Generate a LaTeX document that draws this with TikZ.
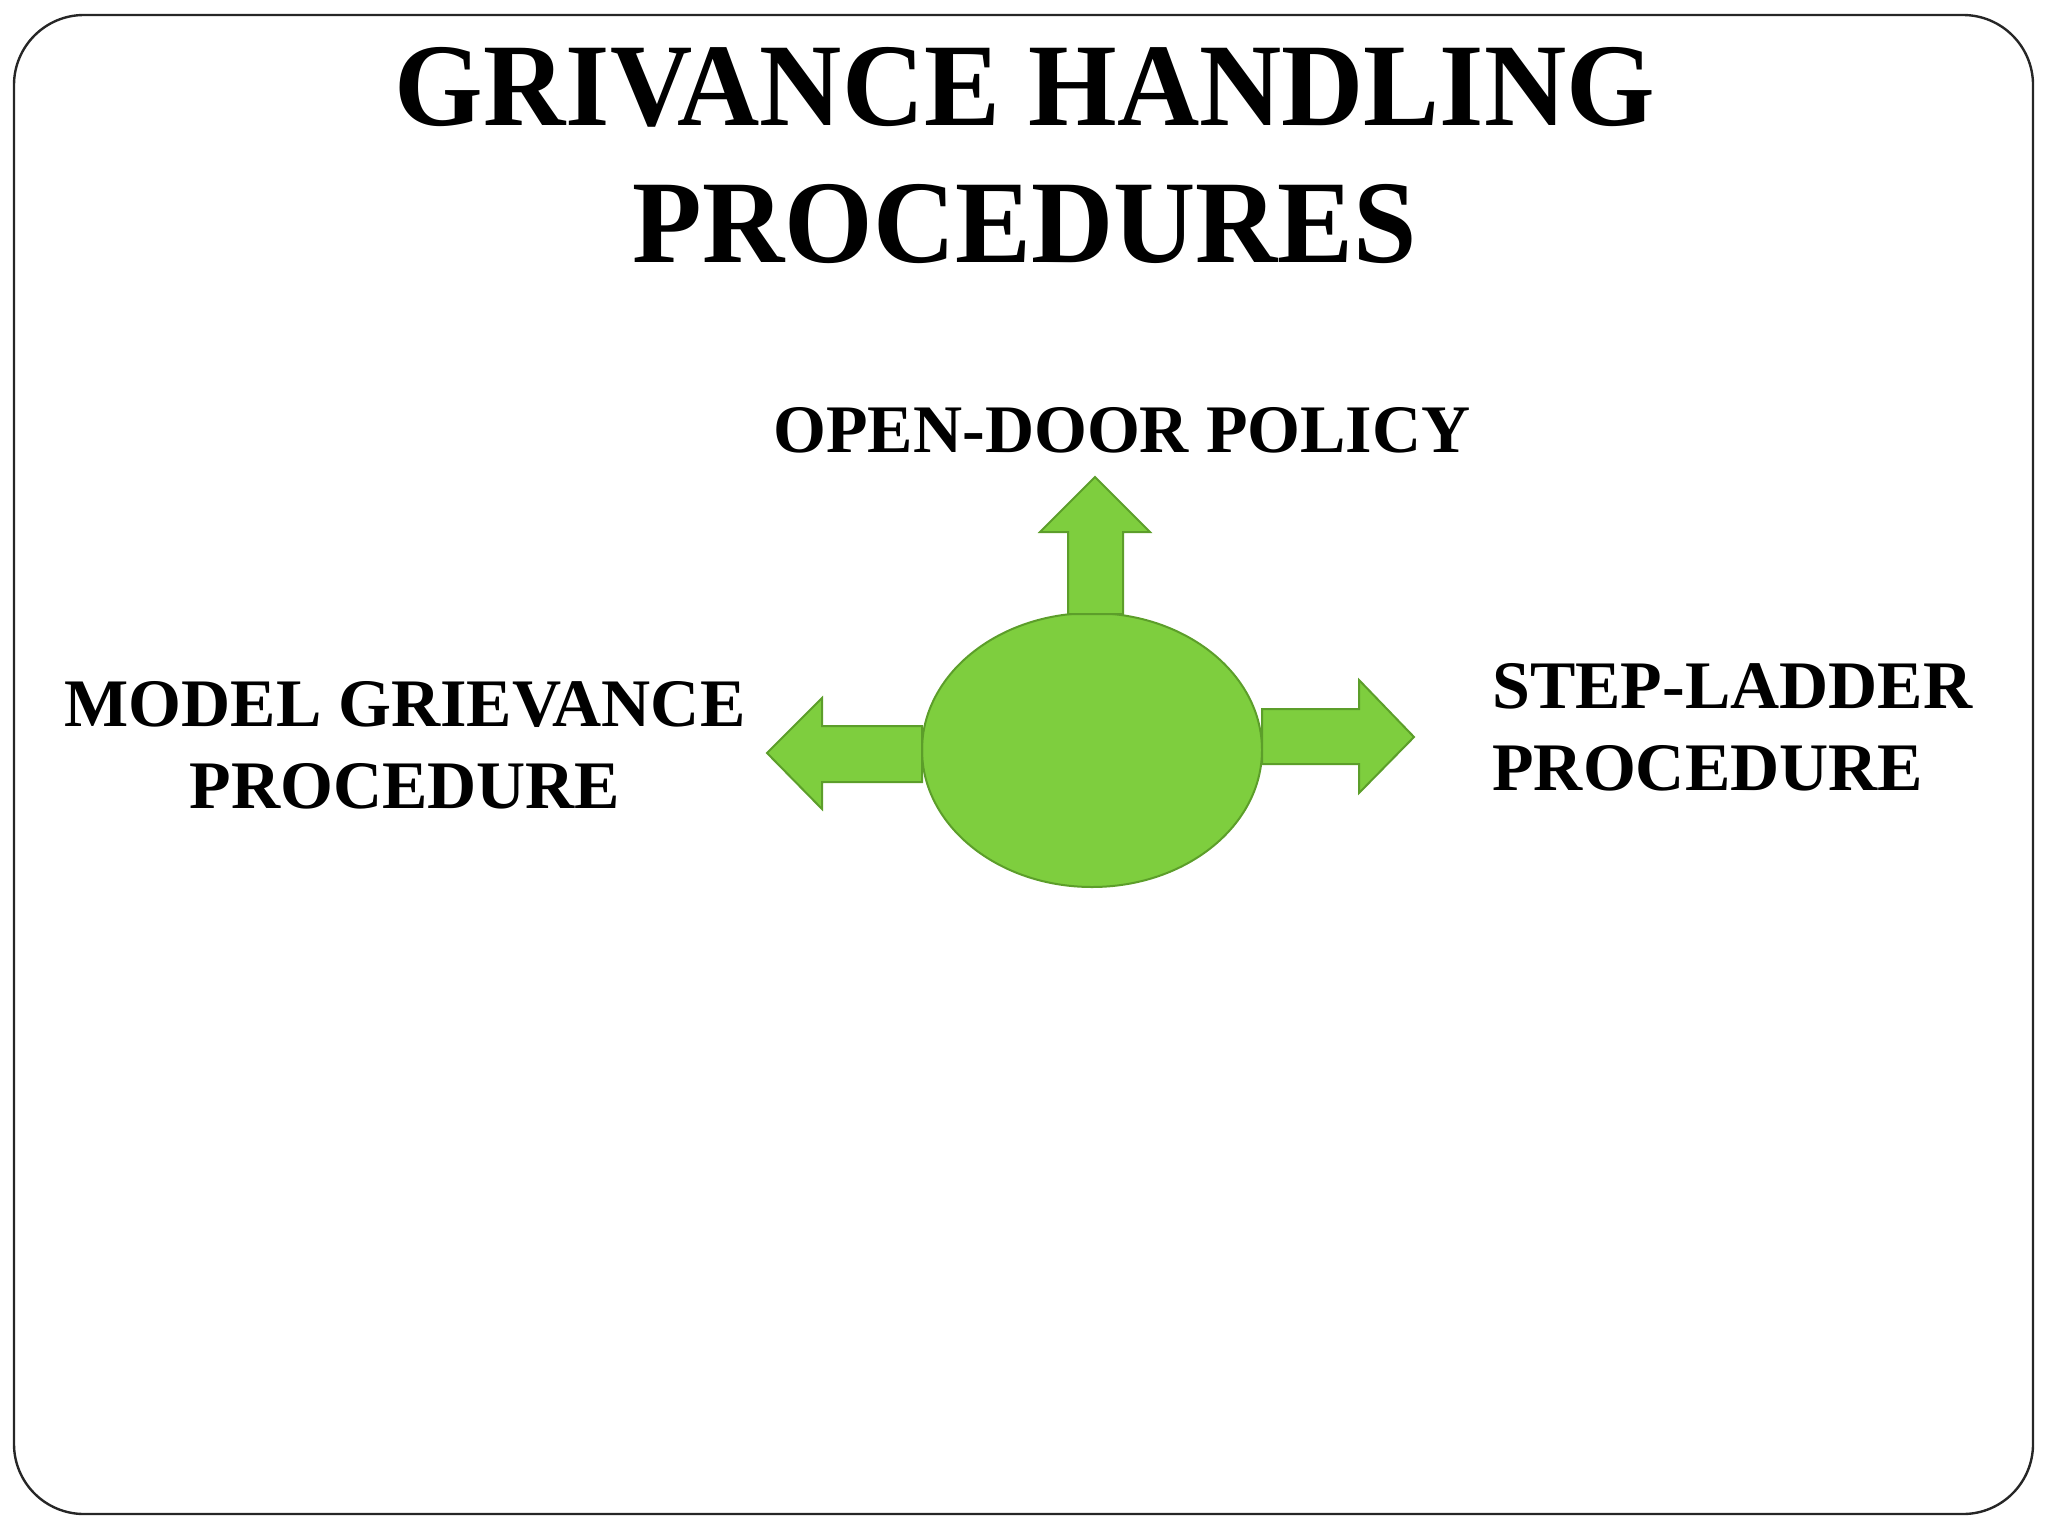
\documentclass[tikz,border=0pt]{standalone}
\usepackage{fontspec}
\setmainfont{Liberation Serif}
\newfontfamily\titlefont{Liberation Serif}[FakeStretch=0.965]
\newfontfamily\labelfont{Liberation Serif}
\usetikzlibrary{shapes.geometric}
\definecolor{leafgreen}{RGB}{126,206,62}
\definecolor{leafedge}{RGB}{92,158,42}
\tikzset{
  framebox/.style={draw=black!85, line width=1.2pt, rounded corners=35pt},
  blockarrow/.style={draw=leafedge, fill=leafgreen, line width=1pt, line join=miter},
  hubshape/.style={ellipse, draw=leafedge, fill=leafgreen, line width=1pt, inner sep=0pt,
    minimum width=340pt*0.5, minimum height=274pt*0.5},
  caption/.style={inner sep=0pt, font=\labelfont\bfseries\fontsize{34}{41}\selectfont}
}
\begin{document}
\begin{tikzpicture}[x=0.5pt,y=0.5pt,yscale=-1,xscale=1]
\useasboundingbox (0,0) rectangle (2048,1536);
\draw [framebox] (14,15) rectangle (2033,1514) ;
% title
\node (title) [anchor=north, inner sep=0pt, align=center, font=\titlefont\bfseries\fontsize{59}{68.5}\selectfont] at (1025,47) {GRIVANCE HANDLING\\PROCEDURES};
% centre and arrows
\node (hub) [hubshape] at (1092,750) {};
\draw [blockarrow] (1068,614) -- (1068,532) -- (1040,532) -- (1095,477) -- (1150,532) -- (1123,532) -- (1123,614) -- cycle ;
\draw [blockarrow] (1262,709) -- (1359,709) -- (1359,680) -- (1414,737) -- (1359,793) -- (1359,764) -- (1262,764) -- cycle ;
\draw [blockarrow] (922,726) -- (822,726) -- (822,698) -- (767,753) -- (822,809) -- (822,782) -- (922,782) -- cycle ;
% labels
\node (opendoor) [caption, anchor=base] at (1122,452) {OPEN-DOOR POLICY};
\node (model) [caption, anchor=north, align=center] at (405,681) {MODEL GRIEVANCE\\PROCEDURE};
\node (ladder) [caption, anchor=north west, align=left] at (1492,663) {STEP-LADDER\\PROCEDURE};
\end{tikzpicture}
\end{document}
